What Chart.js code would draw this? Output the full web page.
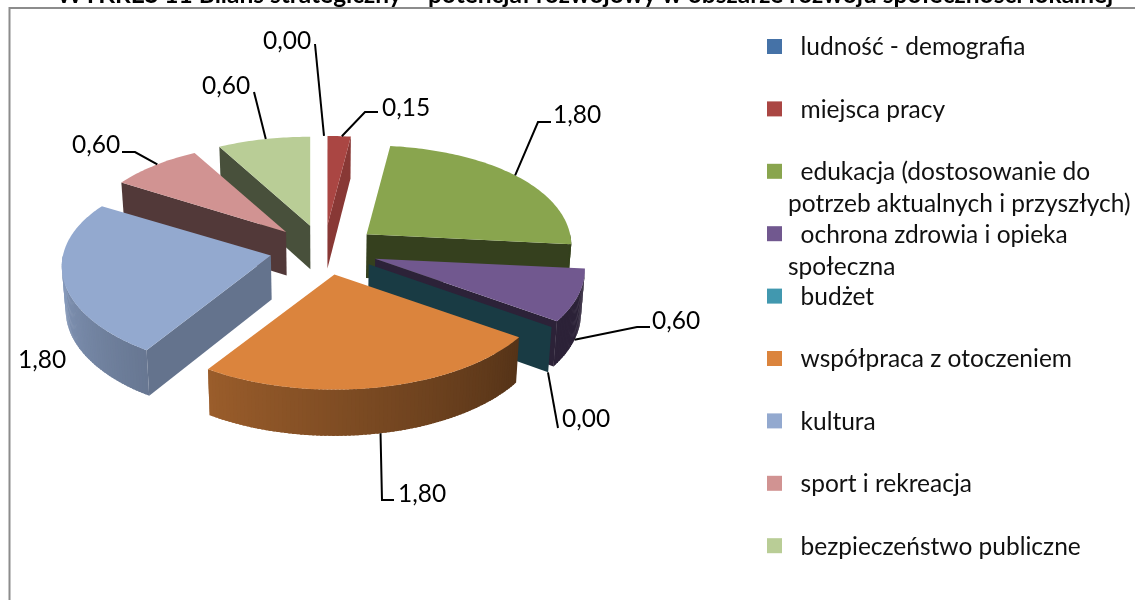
<!DOCTYPE html>
<html lang="pl">
<head>
<meta charset="utf-8">
<title>Bilans strategiczny</title>
<script src="https://cdn.jsdelivr.net/npm/chart.js@4"></script>
<style>
  html, body { margin: 0; padding: 0; background: #fff; }
  #wrap { position: relative; width: 1135px; height: 600px; overflow: hidden; }
</style>
</head>
<body>
<div id="wrap"><canvas id="chart" width="1135" height="600"></canvas></div>
<script>
var titleText = 'WYKRES 11 Bilans strategiczny – potencjał rozwojowy w obszarze rozwoju społeczności lokalnej';

var categories = [
  'ludność - demografia',
  'miejsca pracy',
  'edukacja (dostosowanie do potrzeb aktualnych i przyszłych)',
  'ochrona zdrowia i opieka społeczna',
  'budżet',
  'współpraca z otoczeniem',
  'kultura',
  'sport i rekreacja',
  'bezpieczeństwo publiczne'
];
var values = [0, 0.15, 1.8, 0.6, 0, 1.8, 1.8, 0.6, 0.6];
var colors = ['#4572A7', '#AA4643', '#89A54E', '#71588F', '#4198AF', '#DB843D', '#93A9CF', '#D19392', '#B9CD96'];

// where each value label sits: text anchor and the leader running from the slice rim
var labelLayout = [
  { x: 263, y: 41, leader: [[315, 44]] },
  { x: 382, y: 108, leader: [[378, 112], [365, 112]] },
  { x: 553, y: 115, leader: [[551, 122], [538, 122]] },
  { x: 652, y: 321, leader: [[650, 327], [637, 327]] },
  { x: 562, y: 419, leader: [[558, 428]] },
  { x: 398, y: 494, leader: [[394, 500], [382, 500]] },
  { x: 18, y: 360, leader: [] },
  { x: 72, y: 145, leader: [[122, 152], [135, 152]] },
  { x: 202, y: 86, leader: [[254, 92]] }
];
// rim angle (degrees from 12 o'clock, clockwise) that each leader lands on, inside its slice
var leaderAngle = [0, 4.5, 51, 110, 125, 168.5, null, 317, 346];
var leaderDrop = [false, false, false, true, true, true, false, false, false];

var legendLines = [
  ['  ludność - demografia'],
  ['  miejsca pracy'],
  ['  edukacja (dostosowanie do', 'potrzeb aktualnych i przyszłych)'],
  ['  ochrona zdrowia i opieka', 'społeczna'],
  ['  budżet'],
  ['  współpraca z otoczeniem'],
  ['  kultura'],
  ['  sport i rekreacja'],
  ['  bezpieczeństwo publiczne']
];

var FONT = 'Lato, "Open Sans", sans-serif';
var TEXT_SIZE = 24.5;
var DEG = Math.PI / 180;

function shade(hex, f) {
  var n = parseInt(hex.slice(1), 16);
  return 'rgb(' + Math.round((n >> 16) * f) + ',' + Math.round(((n >> 8) & 255) * f) + ',' + Math.round((n & 255) * f) + ')';
}

// the tilted pie: angle measured from 12 o'clock, the front looks larger than the back
function apexOf(el) {
  var mid = (el.startAngle + el.endAngle) / 2 + Math.PI / 2;
  var off = el.options.offset;
  return { x: el.x + Math.sin(mid) * off, y: el.y - Math.cos(mid) * off * 0.46 };
}
function rim(apex, th) {
  var c = Math.cos(th);
  var y = apex.y - 102 * c + 13 * c * c;
  return { x: apex.x + Math.sin(th) * (207 + 0.21 * (y - 251)), y: y };
}
function drop(p, cx) {
  return { x: p.x + (cx - p.x) * 0.015, y: p.y + 42 + (p.y - 138) * 0.017 };
}

function quad(ctx, a, b, c, d, fill) {
  ctx.fillStyle = fill;
  ctx.beginPath();
  ctx.moveTo(a.x, a.y);
  ctx.lineTo(b.x, b.y);
  ctx.lineTo(c.x, c.y);
  ctx.lineTo(d.x, d.y);
  ctx.closePath();
  ctx.fill();
}

function wallShade(normal) {
  // normal in degrees, 90 = facing right, 180 = facing the viewer
  if (normal >= 185) return 0.39;
  return 0.4 + (185 - normal) / 88 * 0.4;
}
function rimShade(deg) {
  if (deg < 125) return 0.39;
  return 0.39 + (deg - 125) / 145 * 0.52;
}

function drawSlice(ctx, el, color, cx) {
  var a = el.startAngle + Math.PI / 2;
  var b = el.endAngle + Math.PI / 2;
  var apex = apexOf(el);
  var apexLow = drop(apex, cx);
  var walls = [{ th: a, normal: a / DEG + 90 - 180 }, { th: b, normal: b / DEG + 90 }];
  walls.forEach(function (w) {
    var n = ((w.normal % 360) + 360) % 360;
    if (n < 90.5 || n > 270) return; // faces away or edge-on
    var p = rim(apex, w.th);
    quad(ctx, apex, p, drop(p, cx), apexLow, shade(color, wallShade(n)));
  });
  // curved outer wall, front half only; strips overlap so no seams show
  var from = Math.max(a / DEG, 90), to = Math.min(b / DEG, 270);
  for (var d = from; d < to; d += 1) {
    var p1 = rim(apex, d * DEG), p2 = rim(apex, Math.min(d + 1.6, to) * DEG);
    quad(ctx, p1, p2, drop(p2, cx), drop(p1, cx), shade(color, rimShade(d)));
  }
  if (b - a <= 0) return;
  // top face
  ctx.fillStyle = color;
  ctx.beginPath();
  ctx.moveTo(apex.x, apex.y);
  for (var t = a / DEG; t < b / DEG; t += 1) {
    var r = rim(apex, t * DEG);
    ctx.lineTo(r.x, r.y);
  }
  var e = rim(apex, b);
  ctx.lineTo(e.x, e.y);
  ctx.closePath();
  ctx.fill();
}

var tiltedPie = {
  id: 'tiltedPie',
  beforeDatasetsDraw: function (chart) {
    var ctx = chart.ctx;
    var arcs = chart.getDatasetMeta(0).data;
    var cx = arcs[0].x;
    var order = arcs.map(function (el, i) { return i; }).sort(function (i, j) {
      var mi = (arcs[i].startAngle + arcs[i].endAngle) / 2 + Math.PI / 2;
      var mj = (arcs[j].startAngle + arcs[j].endAngle) / 2 + Math.PI / 2;
      return -Math.cos(mi) - -Math.cos(mj);
    });
    ctx.save();
    order.forEach(function (i) { drawSlice(ctx, arcs[i], colors[i], cx); });
    ctx.restore();
    return false;
  },
  afterDraw: function (chart) {
    var ctx = chart.ctx;
    var arcs = chart.getDatasetMeta(0).data;
    var cx = arcs[0].x;
    ctx.save();

    // frame, only top and left edges fall inside the crop
    ctx.strokeStyle = '#8c8c8c';
    ctx.lineWidth = 2;
    ctx.beginPath();
    ctx.moveTo(9.5, 600);
    ctx.lineTo(9.5, 8);
    ctx.lineTo(1135, 8);
    ctx.stroke();

    // title, cut off by the top of the picture
    ctx.fillStyle = '#000';
    ctx.font = 'bold 24.5px ' + FONT;
    ctx.textAlign = 'center';
    ctx.textBaseline = 'alphabetic';
    ctx.fillText(titleText, 585, 3);

    // leaders and value labels
    ctx.font = TEXT_SIZE + 'px ' + FONT;
    ctx.textAlign = 'left';
    ctx.textBaseline = 'middle';
    values.forEach(function (v, i) {
      var spot = labelLayout[i];
      if (leaderAngle[i] !== null) {
        var p = rim(apexOf(arcs[i]), leaderAngle[i] * DEG);
        if (leaderDrop[i]) p = drop(p, cx);
        ctx.strokeStyle = '#000';
        ctx.lineWidth = 2;
        ctx.beginPath();
        ctx.moveTo(p.x, p.y);
        spot.leader.slice().reverse().forEach(function (q) { ctx.lineTo(q[0], q[1]); });
        ctx.stroke();
      }
      ctx.fillStyle = '#000';
      ctx.fillText(v.toFixed(2).replace('.', ','), spot.x, spot.y);
    });

    // legend
    categories.forEach(function (c, i) {
      var y = 46.5 + i * 62.4;
      ctx.fillStyle = colors[i];
      ctx.fillRect(767, y - 7.5, 15, 15);
      ctx.fillStyle = '#111';
      legendLines[i].forEach(function (line, k) {
        ctx.fillText(line, 788, y + 1 + k * 32);
      });
    });
    ctx.restore();
  }
};

new Chart(document.getElementById('chart'), {
  type: 'pie',
  data: {
    labels: categories,
    datasets: [{ data: values, backgroundColor: colors, borderWidth: 0, offset: 54.5, radius: 218 }]
  },
  options: {
    responsive: false,
    animation: false,
    radius: 218,
    layout: { padding: { left: 0, top: 0, right: 487, bottom: 100 } },
    plugins: { legend: { display: false }, tooltip: { enabled: false }, title: { display: false } }
  },
  plugins: [tiltedPie]
});
</script>
</body>
</html>
